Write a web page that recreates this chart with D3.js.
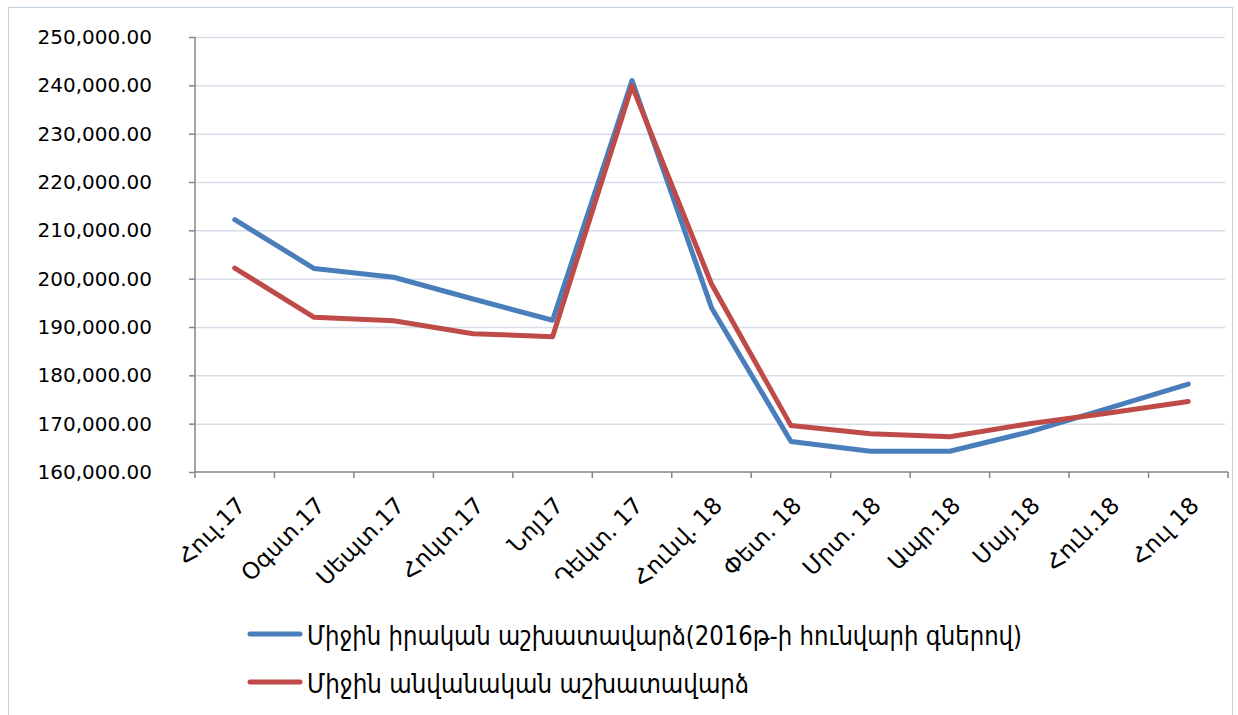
<!DOCTYPE html>
<html>
<head>
<meta charset="utf-8">
<script src="https://cdn.jsdelivr.net/npm/d3@7"></script>
<style>
    body { margin: 0; background: #fff; }
    svg { display: block; }
</style>
</head>
<body>
<div class="chart"></div>
<script>
// values
const months = ["Հուլ.17", "Օգստ.17", "Սեպտ.17", "Հոկտ.17", "Նոյ17", "Դեկտ. 17", "Հունվ. 18",
                "Փետ. 18", "Մրտ. 18", "Ապր.18", "Մայ.18", "Հուն.18", "Հուլ 18"];
const realWage = [212200, 202100, 200300, 195800, 191400, 241000, 194000,
                  166300, 164300, 164300, 168300, 173200, 178200];
const nominalWage = [202200, 192000, 191300, 188600, 188000, 239900, 198900,
                     169600, 167900, 167300, 170000, 172200, 174600];
const yTicks = [160000, 170000, 180000, 190000, 200000, 210000, 220000, 230000, 240000, 250000];
const seriesNames = ["Միջին իրական աշխատավարձ(2016թ-ի հունվարի գներով)", "Միջին անվանական աշխատավարձ"];
const colors = ["#4a7ebb", "#be4b48"];

const W = 1238, H = 715;
const pLeft = 195, pRight = 1228, pTop = 37, pBottom = 472;

const svg = d3.select(".chart").append("svg")
    .attr("width", W)
    .attr("height", H);

// outer frame
svg.append("rect")
    .attr("x", 8.5).attr("y", 7.5)
    .attr("width", 1224).attr("height", 720)
    .attr("fill", "none")
    .attr("stroke", "#c3d0e0");

const x = d3.scaleBand().domain(months).range([pLeft, pRight]).padding(0);
const y = d3.scaleLinear().domain([160000, 250000]).range([pBottom, pTop]);

// grid
svg.append("g")
    .selectAll("line")
    .data(yTicks.slice(1))
    .enter()
    .append("line")
    .attr("x1", pLeft).attr("x2", pRight - 3)
    .attr("y1", d => y(d) + 0.5).attr("y2", d => y(d) + 0.5)
    .attr("stroke", "#d6dee9")
    .attr("stroke-width", 1.5);

// y axis
const yAxis = svg.append("g")
    .attr("transform", "translate(" + pLeft + ",0)")
    .call(d3.axisLeft(y).tickValues(yTicks).tickSize(6).tickPadding(37)
        .tickFormat(d3.format(",.2f")));
yAxis.select(".domain").attr("stroke", "#868686").attr("stroke-width", 1.5).attr("d", "M0," + pTop + "V" + pBottom);
yAxis.selectAll(".tick line").attr("stroke", "#868686").attr("stroke-width", 1.5);
yAxis.selectAll(".tick text")
    .attr("fill", "#000")
    .style("font-family", "DejaVu Sans")
    .style("font-size", "20px");

// x axis: line, boundary ticks, rotated labels
const xAxis = svg.append("g");
xAxis.append("line")
    .attr("x1", pLeft).attr("x2", pRight)
    .attr("y1", pBottom).attr("y2", pBottom)
    .attr("stroke", "#868686").attr("stroke-width", 1.5);
xAxis.selectAll(".bt")
    .data(months.concat(["end"]))
    .enter()
    .append("line")
    .attr("class", "bt")
    .attr("x1", (d, i) => i < months.length ? x(d) : pRight)
    .attr("x2", (d, i) => i < months.length ? x(d) : pRight)
    .attr("y1", pBottom).attr("y2", pBottom + 6)
    .attr("stroke", "#868686").attr("stroke-width", 1.5);
xAxis.selectAll(".lbl")
    .data(months)
    .enter()
    .append("text")
    .attr("class", "lbl")
    .attr("transform", d => "translate(" + (x(d) + x.bandwidth() / 2 + 12) + "," + (pBottom + 35) + ") rotate(-45)")
    .attr("text-anchor", "end")
    .style("font-family", "DejaVu Sans")
    .style("font-size", "23px")
    .text(d => d);

// lines
const line = d3.line()
    .x((d, i) => x(months[i]) + x.bandwidth() / 2)
    .y(d => y(d));

[realWage, nominalWage].forEach((s, k) => {
    svg.append("path")
        .datum(s)
        .attr("d", line)
        .attr("fill", "none")
        .attr("stroke", colors[k])
        .attr("stroke-width", 5)
        .attr("stroke-linejoin", "round")
        .attr("stroke-linecap", "round");
});

// legend
const legend = svg.append("g");
seriesNames.forEach((name, k) => {
    const ly = 634 + k * 48;
    legend.append("line")
        .attr("x1", 250).attr("x2", 300)
        .attr("y1", ly).attr("y2", ly)
        .attr("stroke", colors[k])
        .attr("stroke-width", 5)
        .attr("stroke-linecap", "round");
    legend.append("text")
        .attr("x", 307).attr("y", ly + 11)
        .attr("textLength", k == 0 ? 715 : 442)
        .attr("lengthAdjust", "spacingAndGlyphs")
        .style("font-family", "DejaVu Sans Condensed, DejaVu Sans")
        .style("font-size", "27px")
        .text(name);
});
</script>
</body>
</html>
